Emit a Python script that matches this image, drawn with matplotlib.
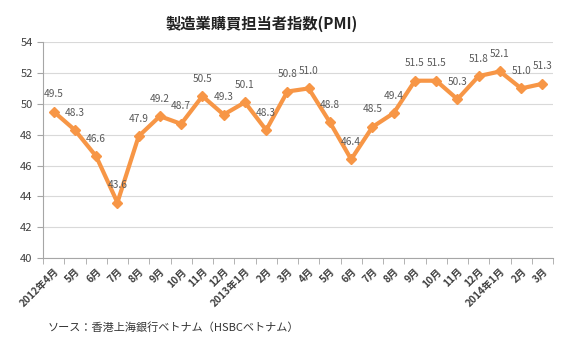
import numpy as np
import matplotlib.pyplot as plt

plt.rcParams['font.family'] = ['Noto Sans CJK JP', 'DejaVu Sans']

# month labels and PMI values
months = ['2012年4月', '5月', '6月', '7月', '8月', '9月', '10月', '11月', '12月',
          '2013年1月', '2月', '3月', '4月', '5月', '6月', '7月', '8月', '9月',
          '10月', '11月', '12月', '2014年1月', '2月', '3月']
pmi = [49.5, 48.3, 46.6, 43.6, 47.9, 49.2, 48.7, 50.5, 49.3, 50.1, 48.3, 50.8,
       51.0, 48.8, 46.4, 48.5, 49.4, 51.5, 51.5, 50.3, 51.8, 52.1, 51.0, 51.3]
yticks = [40, 42, 44, 46, 48, 50, 52, 54]

fig = plt.figure(figsize=(5.63, 3.40), dpi=100)
ax = fig.add_axes([0.0764, 0.241, 0.906, 0.635])

x = np.arange(len(pmi))
ax.plot(x, pmi, color='#F79646', lw=3, marker='D', ms=5.5, zorder=3)
for xi, v in zip(x, pmi):
    ax.annotate(f'{v:.1f}', (xi, v), xytext=(0, 9), textcoords='offset points',
                ha='center', va='bottom', fontsize=7.3, color='#595959')

ax.set_xlim(-0.5, len(pmi) - 0.5)
ax.set_ylim(40, 54)
ax.set_yticks(yticks)
ax.yaxis.grid(True, color='#D9D9D9', lw=0.8)
ax.set_axisbelow(True)

ax.set_xticks(x)
ax.set_xticklabels(months, rotation=45, ha='right', rotation_mode='anchor',
                   fontsize=7.3, color='#404040', fontweight='bold')
ax.set_xticks(np.arange(-0.5, len(pmi)), minor=True)
ax.tick_params(axis='x', which='major', length=0, pad=6)
ax.tick_params(axis='x', which='minor', length=4, color='#A6A6A6')
ax.tick_params(axis='y', length=4, color='#A6A6A6', labelsize=8, labelcolor='#404040')

for s in ['top', 'right']:
    ax.spines[s].set_visible(False)
for s in ['left', 'bottom']:
    ax.spines[s].set_color('#A6A6A6')

fig.text(0.465, 0.93, '製造業購買担当者指数(PMI)', ha='center', va='center',
         fontsize=11, fontweight='bold', color='#222222')
fig.text(0.085, 0.038, 'ソース：香港上海銀行ベトナム（HSBCベトナム）', ha='left', va='center',
         fontsize=8, color='#333333')

fig.savefig('out.png', dpi=100)
